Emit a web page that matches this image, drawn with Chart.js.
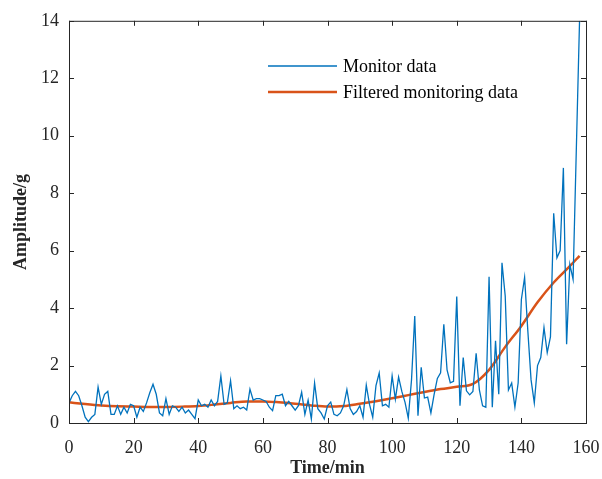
<!DOCTYPE html>
<html>
<head>
<meta charset="utf-8">
<script src="https://cdn.jsdelivr.net/npm/chart.js@4.4.1/dist/chart.umd.min.js"></script>
<style>
  html, body { margin: 0; padding: 0; background: #fff; }
  #wrap { width: 602px; height: 479px; }
</style>
</head>
<body>
<div id="wrap"><canvas id="chart" width="602" height="479"></canvas></div>
<script>
// monitor data, one sample per minute starting at 0 min
const monitorValues = [
    0.7, 0.95, 1.1, 0.95, 0.6, 0.2, 0.05, 0.2, 0.3, 1.25,
    0.65, 1.0, 1.1, 0.3, 0.3, 0.6, 0.3, 0.55, 0.35, 0.65,
    0.6, 0.2, 0.55, 0.4, 0.7, 1.05, 1.35, 1.0, 0.35, 0.25,
    0.85, 0.3, 0.6, 0.55, 0.4, 0.55, 0.35, 0.45, 0.3, 0.15,
    0.8, 0.6, 0.65, 0.55, 0.8, 0.6, 0.75, 1.64, 0.65, 0.7,
    1.47, 0.5, 0.6, 0.5, 0.55, 0.45, 1.18, 0.8, 0.85, 0.85,
    0.8, 0.75, 0.55, 0.43, 0.95, 0.95, 1.0, 0.6, 0.75, 0.6,
    0.45, 0.6, 1.07, 0.3, 0.8, 0.14, 1.39, 0.5, 0.35, 0.14,
    0.6, 0.73, 0.3, 0.25, 0.35, 0.6, 1.16, 0.5, 0.3, 0.4,
    0.6, 0.2, 1.32, 0.65, 0.2, 1.3, 1.74, 0.6, 0.65, 0.55,
    1.64, 0.83, 1.6, 1.1, 0.72, 0.17, 1.5, 3.72, 0.25, 1.94,
    0.87, 0.9, 0.35, 1.0, 1.55, 1.75, 3.44, 1.85, 1.4, 1.45,
    4.4, 0.6, 2.28, 1.12, 0.98, 1.1, 2.43, 1.15, 0.6, 0.55,
    5.09, 0.55, 2.86, 1.0, 5.58, 4.42, 1.15, 1.39, 0.55, 1.39,
    4.3, 5.07, 3.2, 1.5, 0.7, 2.0, 2.28, 3.32, 2.45, 3.0,
    7.3, 5.75, 6.0, 8.88, 2.74, 5.52, 5.0, 9.5, 14.0
];

const filteredMinutes = [0, 5, 10, 15, 20, 25, 30, 35, 40, 45, 50, 55, 60, 65, 70, 75, 80,
    85, 90, 95, 100, 105, 110, 115, 120, 125, 130, 135, 140, 145, 150, 155, 158];
const filteredValues = [0.72, 0.66, 0.61, 0.58, 0.57, 0.56, 0.56, 0.57, 0.59, 0.64, 0.70,
    0.75, 0.75, 0.72, 0.67, 0.61, 0.57, 0.59, 0.67, 0.76, 0.86, 0.97, 1.08, 1.18, 1.26,
    1.36, 1.85, 2.65, 3.38, 4.2, 4.89, 5.46, 5.82];

const xTicks = [0, 20, 40, 60, 80, 100, 120, 140, 160];
const yTicks = [0, 2, 4, 6, 8, 10, 12, 14];
const seriesNames = ['Monitor data', 'Filtered monitoring data'];

const BLUE = '#0072BD';
const ORANGE = '#D95319';
const AXIS = '#262626';
const SERIF = '"Liberation Serif", "Times New Roman", serif';

Chart.defaults.font.family = SERIF;
Chart.defaults.color = AXIS;

// 枠と内向きの目盛り
const boxTicks = {
    id: 'boxTicks',
    afterDraw(chart) {
        const { ctx, chartArea: a, scales: { x, y } } = chart;
        ctx.save();
        ctx.strokeStyle = AXIS;
        ctx.lineWidth = 1;
        ctx.strokeRect(a.left + 0.5, a.top + 0.5, a.right - a.left, a.bottom - a.top);
        ctx.beginPath();
        xTicks.forEach(v => {
            const px = Math.round(x.getPixelForValue(v)) + 0.5;
            ctx.moveTo(px, a.bottom); ctx.lineTo(px, a.bottom - 5);
            ctx.moveTo(px, a.top); ctx.lineTo(px, a.top + 5);
        });
        yTicks.forEach(v => {
            const py = Math.round(y.getPixelForValue(v)) + 0.5;
            ctx.moveTo(a.left, py); ctx.lineTo(a.left + 5, py);
            ctx.moveTo(a.right, py); ctx.lineTo(a.right - 5, py);
        });
        ctx.stroke();
        ctx.restore();
    }
};

// legend inside the plot, no frame
const innerLegend = {
    id: 'innerLegend',
    afterDraw(chart) {
        const ctx = chart.ctx;
        const colors = [BLUE, ORANGE];
        const widths = [1.3, 2.5];
        ctx.save();
        ctx.font = '18px ' + SERIF;
        ctx.textBaseline = 'middle';
        ctx.fillStyle = '#000';
        seriesNames.forEach((name, i) => {
            const yy = 66 + i * 26;
            ctx.strokeStyle = colors[i];
            ctx.lineWidth = widths[i];
            ctx.beginPath();
            ctx.moveTo(268, yy);
            ctx.lineTo(337, yy);
            ctx.stroke();
            ctx.fillText(name, 343, yy + 1);
        });
        ctx.restore();
    }
};

const ctx = document.getElementById('chart').getContext('2d');
new Chart(ctx, {
    type: 'line',
    data: {
        datasets: [{
            label: seriesNames[0],
            data: monitorValues.map((v, i) => ({ x: i, y: v })),
            borderColor: BLUE,
            borderWidth: 1.3,
            pointRadius: 0,
            tension: 0
        }, {
            label: seriesNames[1],
            data: filteredMinutes.map((m, i) => ({ x: m, y: filteredValues[i] })),
            borderColor: ORANGE,
            borderWidth: 2.5,
            pointRadius: 0,
            cubicInterpolationMode: 'monotone'
        }]
    },
    options: {
        responsive: false,
        animation: false,
        layout: {
            padding: { top: 20, right: 16, left: 0, bottom: 0 }
        },
        plugins: {
            legend: { display: false },
            tooltip: { enabled: false }
        },
        scales: {
            x: {
                type: 'linear',
                min: 0,
                max: 160,
                afterFit: s => {
                    s.height = 56;
                    s.paddingLeft = 0;
                    s.paddingRight = 0; // 160のラベルで右が縮まないように
                },
                afterBuildTicks: s => { s.ticks = xTicks.map(v => ({ value: v })); },
                grid: { display: false, drawTicks: false },
                border: { display: false },
                ticks: {
                    padding: 14,
                    font: { size: 18 },
                    color: AXIS,
                    maxRotation: 0
                },
                title: {
                    display: true,
                    text: 'Time/min',
                    font: { size: 18, weight: 'bold' },
                    color: AXIS,
                    padding: { top: 0, bottom: 0 }
                }
            },
            y: {
                min: 0,
                max: 14,
                afterFit: s => { s.width = 69; },
                afterBuildTicks: s => { s.ticks = yTicks.map(v => ({ value: v })); },
                grid: { display: false, drawTicks: false },
                border: { display: false },
                ticks: {
                    padding: 10,
                    font: { size: 18 },
                    color: AXIS
                },
                title: {
                    display: true,
                    text: 'Amplitude/g',
                    font: { size: 18, weight: 'bold' },
                    color: AXIS,
                    padding: { top: 11, bottom: 0 }
                }
            }
        }
    },
    plugins: [boxTicks, innerLegend]
});
</script>
</body>
</html>
